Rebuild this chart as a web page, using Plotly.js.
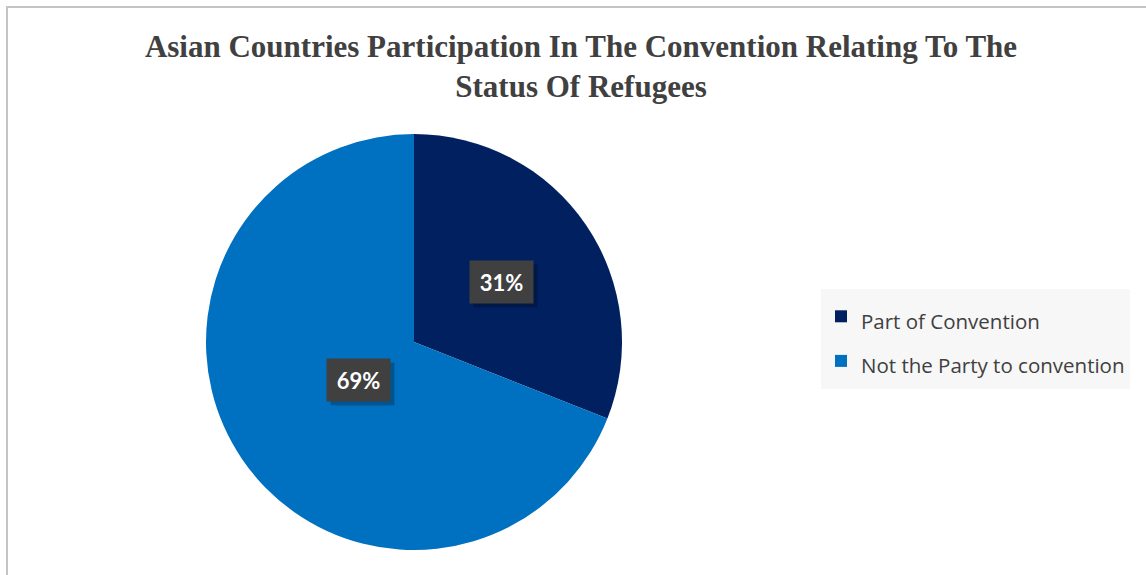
<!DOCTYPE html>
<html>
<head>
<meta charset="utf-8">
<script src="https://cdn.plot.ly/plotly-3.0.1.min.js"></script>
<style>
  html, body { margin: 0; padding: 0; background: #ffffff; }
  #wrap { position: relative; width: 1146px; height: 575px; overflow: hidden; }
  #frame { position: absolute; left: 6px; top: 6px; width: 1200px; height: 700px;
           border-left: 2px solid #c4c4c4; border-top: 2px solid #c4c4c4; pointer-events: none; }
  #chart { position: absolute; left: 0; top: 0; width: 1146px; height: 575px; }
</style>
</head>
<body>
<div id="wrap">
  <div id="chart"></div>
  <div id="frame"></div>
</div>
<script>
// ---- data ----
const categories = ['Part of Convention', 'Not the Party to convention'];
const shares = [31, 69];
const sliceColors = ['#002060', '#0070C0'];
const chartTitle = 'Asian Countries Participation In The Convention Relating To The<br>Status Of Refugees';

// ---- layout geometry ----
const W = 1146, H = 575;
const domX = [0.17976, 0.54276];
const domY = [0.04348, 0.76696];

const total = shares.reduce((a, b) => a + b, 0);
const cx = (domX[0] + domX[1]) / 2;
const cy = (domY[0] + domY[1]) / 2;
const Rpx = Math.min((domX[1] - domX[0]) * W, (domY[1] - domY[0]) * H) / 2;

const annotations = [];
let cum = 0;
shares.forEach((v, i) => {
  const frac = v / total;
  const mid = (cum + frac / 2) * 2 * Math.PI; // clockwise from 12 o'clock
  cum += frac;
  const r = Rpx * 0.51;
  const ax = cx + (r * Math.sin(mid)) / W;
  const ay = cy + (r * Math.cos(mid)) / H;
  const txt = Math.round(frac * 100) + '%';
  // shadow box
  annotations.push({
    x: ax, y: ay, xref: 'paper', yref: 'paper', showarrow: false,
    text: '&nbsp;', font: { family: 'Lato, sans-serif', size: 22, color: 'rgba(0,0,0,0)' },
    bgcolor: 'rgba(0,0,0,0.25)', width: 61, height: 40, borderpad: 1,
    xshift: 4, yshift: -4
  });
  annotations.push({
    x: ax, y: ay, xref: 'paper', yref: 'paper', showarrow: false,
    text: '<b>' + txt + '</b>', font: { family: 'Lato, sans-serif', size: 22, color: '#ffffff' },
    bgcolor: '#404040', width: 61, height: 40, borderpad: 1
  });
});

const legendLabels = categories.map(c => '<span style="font-size:20.5px">' + c + '</span>');

const data = [{
  type: 'pie',
  labels: legendLabels,
  values: shares,
  marker: { colors: sliceColors, line: { width: 0 } },
  sort: false,
  direction: 'clockwise',
  rotation: 0,
  textinfo: 'none',
  hoverinfo: 'label+percent',
  domain: { x: domX, y: domY }
}];

const layout = {
  width: W, height: H,
  margin: { l: 0, r: 0, t: 0, b: 0 },
  paper_bgcolor: '#ffffff',
  title: {
    text: '<b>' + chartTitle + '</b>',
    font: { family: '"Liberation Serif", "Times New Roman", serif', size: 31, color: '#404040' },
    x: 0.507, xanchor: 'center',
    y: 1 - 56.5 / H, yanchor: 'top', yref: 'container'
  },
  showlegend: true,
  legend: {
    x: 821 / W, xanchor: 'left',
    y: 1 - 289 / H, yanchor: 'top',
    bgcolor: '#f7f7f7',
    font: { family: '"Open Sans", sans-serif', size: 32, color: '#404040' }
  },
  annotations: annotations
};

Plotly.newPlot('chart', data, layout, { displayModeBar: false, staticPlot: true });
</script>
</body>
</html>
